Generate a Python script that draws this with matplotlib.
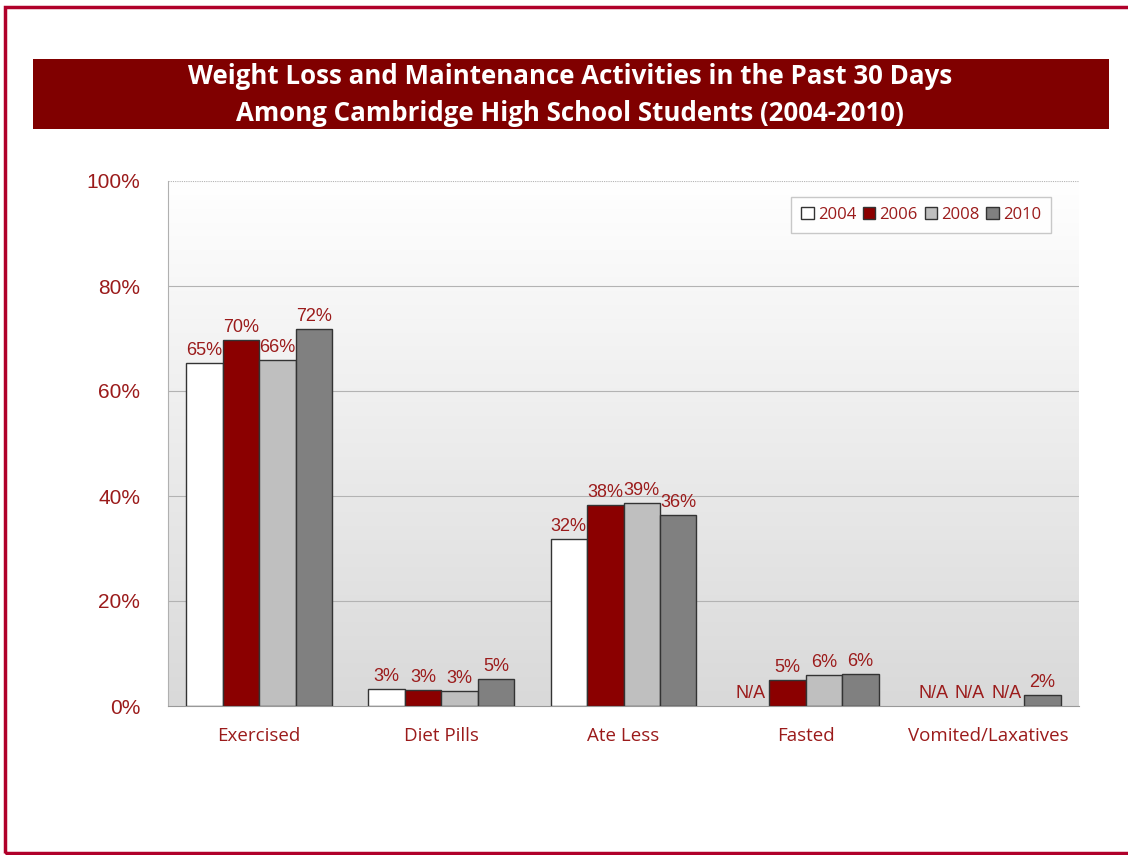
import numpy as np
import matplotlib
matplotlib.use("Agg")
import matplotlib.pyplot as plt
from matplotlib.patches import Rectangle
from matplotlib.colors import LinearSegmentedColormap

categories = ["Exercised", "Diet Pills", "Ate Less", "Fasted", "Vomited/Laxatives"]
years = ["2004", "2006", "2008", "2010"]
v2004 = [65.3, 3.2, 31.8, None, None]
v2006 = [69.7, 3.0, 38.3, 5.0, None]
v2008 = [65.9, 2.9, 38.7, 5.9, None]
v2010 = [71.8, 5.1, 36.4, 6.1, 2.1]
series = [v2004, v2006, v2008, v2010]
colors = ["#ffffff", "#8b0000", "#bfbfbf", "#808080"]
yticks = [0, 20, 40, 60, 80, 100]

W, H = 1128, 855
fig = plt.figure(figsize=(W / 100, H / 100), dpi=100)

red = "#9b1b1b"
# outer frame
fig.add_artist(Rectangle((5 / W, 2 / H), 1.2, 1 - 9 / H, transform=fig.transFigure,
                         fill=False, edgecolor="#b0002a", lw=2.5, zorder=0))
# title banner
fig.add_artist(Rectangle((33 / W, 1 - 129 / H), (1109 - 33) / W, 70 / H,
                         transform=fig.transFigure, facecolor="#800000",
                         edgecolor="none", zorder=1))
fig.text(570 / W, 1 - 95 / H,
         "Weight Loss and Maintenance Activities in the Past 30 Days\nAmong Cambridge High School Students (2004-2010)",
         color="white", fontsize=18.6, fontweight="bold", family="Open Sans",
         ha="center", va="center", linespacing=1.5)

ax = fig.add_axes([168 / W, 1 - 706 / H, (1079 - 168) / W, (706 - 181) / H])
ax.set_xlim(-0.5, len(categories) - 0.5)
ax.set_ylim(0, 100)

# gradient background
grad = np.linspace(0, 1, 256).reshape(-1, 1)
cmap = LinearSegmentedColormap.from_list("g", ["#d9d9d9", "#ffffff"])
ax.imshow(grad, extent=[-0.5, len(categories) - 0.5, 0, 100], origin="lower",
          cmap=cmap, aspect="auto", zorder=0)

for y in yticks[1:]:
    ax.axhline(y, color="#b3b3b3", lw=0.8, zorder=1,
               ls=(0, (1, 1)) if y == 100 else "-")

x = np.arange(len(categories))
bw = 0.2
for i, (vals, c, yr) in enumerate(zip(series, colors, years)):
    pos = x + (i - 1.5) * bw
    pv = [(p, v) for p, v in zip(pos, vals) if v is not None]
    ax.bar([p for p, _ in pv], [v for _, v in pv], width=bw, color=c,
           edgecolor="#333333", lw=1.0, zorder=3, label=yr)
    for p, v in zip(pos, vals):
        if v is None:
            txt, yy = "N/A", 0.8
        else:
            txt, yy = f"{round(v):.0f}%", v + 0.8
        ax.text(p, yy, txt, ha="center", va="bottom", color=red, fontsize=13,
                family="Liberation Sans", zorder=4)

ax.set_xticks(x)
ax.set_xticklabels(categories, color=red, fontsize=13.5, family="Open Sans")
ax.set_yticks(yticks)
ax.set_yticklabels([f"{t}%" for t in yticks], color=red, fontsize=15, family="Liberation Sans")
ax.tick_params(axis="x", length=0, pad=15)
ax.tick_params(axis="y", length=0, pad=20)
for s in ["top", "right"]:
    ax.spines[s].set_visible(False)
ax.spines["left"].set_color("#b0b0b0")
ax.spines["bottom"].set_color("#999999")

leg = ax.legend(loc="upper right", bbox_to_anchor=((1051 - 168) / 911, 1 - 16 / 525), ncol=4,
                frameon=True, fancybox=False, handlelength=0.75, handleheight=0.75,
                handletextpad=0.25, columnspacing=0.4, borderpad=0.6, borderaxespad=0,
                prop={"family": "Open Sans", "size": 12})
leg.get_frame().set_edgecolor("#bbbbbb")
leg.get_frame().set_facecolor("white")
for t in leg.get_texts():
    t.set_color(red)

fig.savefig("out.png", dpi=100)
